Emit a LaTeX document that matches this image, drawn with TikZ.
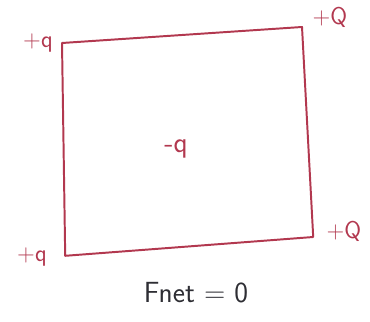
\documentclass[tikz,border=0pt]{standalone}
\usepackage{xcolor}
\usepackage{tikz}
\definecolor{inkred}{HTML}{B2384F}
\definecolor{inkgray}{HTML}{2E2E34}

\begin{document}
\begin{tikzpicture}[every node/.style={font=\sffamily\LARGE, inkred}]
  \useasboundingbox (0,0) rectangle (9.25,8.025);
  \coordinate (TL) at (1.55,6.95);
  \coordinate (TR) at (7.55,7.35);
  \coordinate (BR) at (7.83,2.1);
  \coordinate (BL) at (1.63,1.63);

  \draw[inkred, line width=1.4pt, line join=round] (TL) -- (TR) -- (BR) -- (BL) -- cycle;

  \node (qTL) at (0.95,6.95) {+q};
  \node (qTR) at (8.25,7.6) {+Q};
  \node (qBR) at (8.6,2.25) {+Q};
  \node (qBL) at (0.8,1.6) {+q};
  \node (qC) at (4.4,4.3) [font=\sffamily\huge] {-q};
  \node (Fnet) at (4.9,0.7) [inkgray, font=\sffamily\huge] {Fnet = 0};
\end{tikzpicture}
\end{document}
